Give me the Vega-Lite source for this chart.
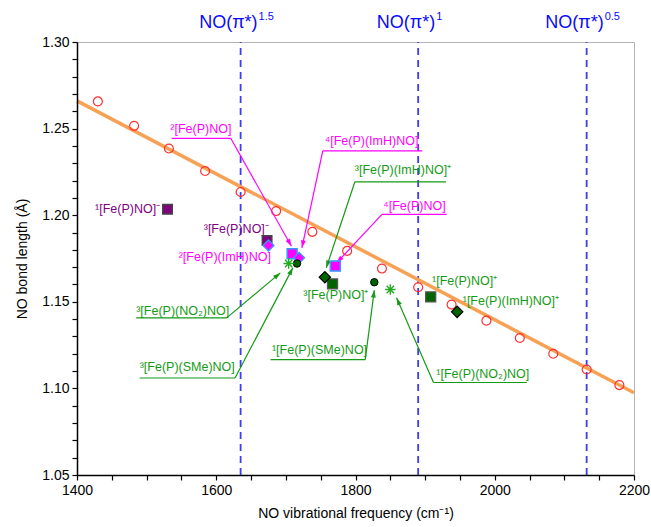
{
  "$schema": "https://vega.github.io/schema/vega-lite/v6.json",
  "width": 557,
  "height": 433,
  "autosize": {"type": "none"},
  "padding": {"left": 77, "top": 42, "right": 17, "bottom": 52},
  "background": "white",
  "config": {
    "view": {"stroke": "#b4b4b4", "strokeWidth": 1},
    "axis": {
      "labelFont": "Liberation Sans",
      "titleFont": "Liberation Sans",
      "labelFontSize": 14,
      "titleFontSize": 14,
      "labelColor": "black",
      "titleColor": "black",
      "titleFontWeight": "normal",
      "domainColor": "black",
      "domainWidth": 1.5,
      "labelFlush": false,
      "labelOverlap": false,
      "grid": false
    }
  },
  "datasets": {
    "states": [
      {"freq": 1635, "len": 1.05, "len2": 1.3},
      {"freq": 1890, "len": 1.05, "len2": 1.3},
      {"freq": 2132, "len": 1.05, "len2": 1.3}
    ],
    "stateLabels": [
      {"freq": 1635, "len": 1.3112, "base": "NO(π*)", "sup": "1.5"},
      {"freq": 1890, "len": 1.3112, "base": "NO(π*)", "sup": "1"},
      {"freq": 2132, "len": 1.3112, "base": "NO(π*)", "sup": "0.5"}
    ],
    "fit": [
      {"freq": 1400, "len": 1.266},
      {"freq": 2200, "len": 1.0975}
    ],
    "series": [
      {"freq": 1430, "len": 1.2657},
      {"freq": 1482, "len": 1.2516},
      {"freq": 1532, "len": 1.2385},
      {"freq": 1584, "len": 1.2255},
      {"freq": 1635, "len": 1.2134},
      {"freq": 1686, "len": 1.2024},
      {"freq": 1738, "len": 1.1904},
      {"freq": 1788, "len": 1.1794},
      {"freq": 1838, "len": 1.1692},
      {"freq": 1890, "len": 1.1584},
      {"freq": 1938, "len": 1.1484},
      {"freq": 1988, "len": 1.1391},
      {"freq": 2036, "len": 1.1291},
      {"freq": 2084, "len": 1.12},
      {"freq": 2132, "len": 1.1109},
      {"freq": 2179, "len": 1.1019}
    ],
    "species": [
      {"name": "¹[Fe(P)NO]⁻", "kind": "anion", "freq": 1530, "len": 1.2034},
      {"name": "³[Fe(P)NO]⁻", "kind": "anion", "freq": 1673, "len": 1.1854},
      {"name": "²[Fe(P)NO]", "kind": "neutral_sq", "freq": 1709, "len": 1.1777},
      {"name": "⁴[Fe(P)NO]", "kind": "neutral_sq", "freq": 1771, "len": 1.1706},
      {"name": "²[Fe(P)(ImH)NO]", "kind": "neutral_dia", "freq": 1675, "len": 1.1825},
      {"name": "⁴[Fe(P)(ImH)NO]", "kind": "neutral_dia", "freq": 1719, "len": 1.1754},
      {"name": "³[Fe(P)NO]⁺", "kind": "cation_sq", "freq": 1767, "len": 1.1603},
      {"name": "¹[Fe(P)NO]⁺", "kind": "cation_sq", "freq": 1908, "len": 1.1528},
      {"name": "³[Fe(P)(ImH)NO]⁺", "kind": "cation_dia", "freq": 1756, "len": 1.1642},
      {"name": "¹[Fe(P)(ImH)NO]⁺", "kind": "cation_dia", "freq": 1946, "len": 1.1442},
      {"name": "³[Fe(P)(SMe)NO]", "kind": "thiolate", "freq": 1716, "len": 1.1721},
      {"name": "¹[Fe(P)(SMe)NO]", "kind": "thiolate", "freq": 1827, "len": 1.1613},
      {"name": "³[Fe(P)(NO₂)NO]", "kind": "nitrite", "freq": 1704, "len": 1.1721},
      {"name": "¹[Fe(P)(NO₂)NO]", "kind": "nitrite", "freq": 1850, "len": 1.1571}
    ],
    "labels": [
      {"name": "¹[Fe(P)NO]⁻", "group": "anion", "freq": 1426, "len": 1.2034},
      {"name": "³[Fe(P)NO]⁻", "group": "anion", "freq": 1582, "len": 1.1918},
      {"name": "²[Fe(P)NO]", "group": "neutral", "freq": 1534, "len": 1.2497},
      {"name": "⁴[Fe(P)NO]", "group": "neutral", "freq": 1840, "len": 1.2053},
      {"name": "²[Fe(P)(ImH)NO]", "group": "neutral", "freq": 1546, "len": 1.1758},
      {"name": "⁴[Fe(P)(ImH)NO]", "group": "neutral", "freq": 1756, "len": 1.2429},
      {"name": "³[Fe(P)NO]⁺", "group": "green", "freq": 1725, "len": 1.1542},
      {"name": "¹[Fe(P)NO]⁺", "group": "green", "freq": 1910, "len": 1.1619},
      {"name": "³[Fe(P)(ImH)NO]⁺", "group": "green", "freq": 1799, "len": 1.2259},
      {"name": "¹[Fe(P)(ImH)NO]⁺", "group": "green", "freq": 1954, "len": 1.1503},
      {"name": "³[Fe(P)(SMe)NO]", "group": "green", "freq": 1490, "len": 1.1125},
      {"name": "¹[Fe(P)(SMe)NO]", "group": "green", "freq": 1680, "len": 1.1219},
      {"name": "³[Fe(P)(NO₂)NO]", "group": "green", "freq": 1485, "len": 1.1449},
      {"name": "¹[Fe(P)(NO₂)NO]", "group": "green", "freq": 1916, "len": 1.1085}
    ],
    "underlines": [
      {"name": "²[Fe(P)NO]", "group": "neutral", "freq": 1536, "freq2": 1621, "len": 1.2443},
      {"name": "⁴[Fe(P)NO]", "group": "neutral", "freq": 1838, "freq2": 1931, "len": 1.2005},
      {"name": "⁴[Fe(P)(ImH)NO]", "group": "neutral", "freq": 1753, "freq2": 1896, "len": 1.2371},
      {"name": "³[Fe(P)(ImH)NO]⁺", "group": "green", "freq": 1799, "freq2": 1930, "len": 1.2192},
      {"name": "³[Fe(P)(SMe)NO]", "group": "green", "freq": 1490, "freq2": 1627, "len": 1.106},
      {"name": "¹[Fe(P)(SMe)NO]", "group": "green", "freq": 1678, "freq2": 1814, "len": 1.1166},
      {"name": "³[Fe(P)(NO₂)NO]", "group": "green", "freq": 1485, "freq2": 1615, "len": 1.1407},
      {"name": "¹[Fe(P)(NO₂)NO]", "group": "green", "freq": 1912, "freq2": 2046, "len": 1.1034}
    ],
    "pointers": [
      {"name": "²[Fe(P)NO]", "group": "neutral", "freq": 1621, "len": 1.2443, "freq2": 1708, "len2": 1.1821},
      {"name": "⁴[Fe(P)NO]", "group": "neutral", "freq": 1838, "len": 1.2005, "freq2": 1773, "len2": 1.1725},
      {"name": "⁴[Fe(P)(ImH)NO]", "group": "neutral", "freq": 1753, "len": 1.2371, "freq2": 1723, "len2": 1.1812},
      {"name": "³[Fe(P)(ImH)NO]⁺", "group": "green", "freq": 1799, "len": 1.2192, "freq2": 1758, "len2": 1.1696},
      {"name": "³[Fe(P)(SMe)NO]", "group": "green", "freq": 1627, "len": 1.106, "freq2": 1710, "len2": 1.1696},
      {"name": "¹[Fe(P)(SMe)NO]", "group": "green", "freq": 1814, "len": 1.1166, "freq2": 1827, "len2": 1.1567},
      {"name": "³[Fe(P)(NO₂)NO]", "group": "green", "freq": 1615, "len": 1.1407, "freq2": 1692, "len2": 1.1667},
      {"name": "¹[Fe(P)(NO₂)NO]", "group": "green", "freq": 1912, "len": 1.1034, "freq2": 1859, "len2": 1.1523}
    ]
  },
  "encoding": {
    "x": {
      "field": "freq", "type": "quantitative",
      "scale": {"domain": [1400, 2200], "nice": false, "zero": false},
      "axis": {
        "title": "NO vibrational frequency (cm⁻¹)",
        "values": [1400, 1450, 1500, 1550, 1600, 1650, 1700, 1750, 1800, 1850, 1900, 1950, 2000, 2050, 2100, 2150, 2200],
        "labelExpr": "datum.value % 200 === 0 ? format(datum.value, 'd') : ''",
        "labelOverlap": false,
        "labelFlush": false,
        "ticks": true,
        "tickSize": 5,
        "tickWidth": 1.2,
        "tickColor": "black",
        "tickOpacity": 1,
        "zindex": 1,
        "labelPadding": 3,
        "titlePadding": 9
      }
    },
    "y": {
      "field": "len", "type": "quantitative",
      "scale": {"domain": [1.05, 1.3], "nice": false, "zero": false},
      "axis": {
        "title": "NO bond length (Å)",
        "values": [1.05, 1.06, 1.07, 1.08, 1.09, 1.1, 1.11, 1.12, 1.13, 1.14, 1.15, 1.16, 1.17, 1.18, 1.19, 1.2, 1.21, 1.22, 1.23, 1.24, 1.25, 1.26, 1.27, 1.28, 1.29, 1.3],
        "labelExpr": "round(datum.value * 100) % 5 === 0 ? format(datum.value, '.2f') : ''",
        "labelOverlap": false,
        "labelFlush": false,
        "ticks": true,
        "tickSize": 5,
        "tickWidth": 1.2,
        "tickColor": "black",
        "tickOpacity": 1,
        "zindex": 1,
        "labelPadding": 3,
        "titlePadding": 12
      }
    }
  },
  "layer": [
    {
      "data": {"name": "states"},
      "mark": {"type": "rule", "color": "#3c3cf5", "strokeWidth": 1.8, "strokeDash": [7, 5]},
      "encoding": {"y2": {"field": "len2"}}
    },
    {
      "data": {"name": "stateLabels"},
      "mark": {"type": "text", "align": "right", "baseline": "middle", "dx": 17, "font": "Liberation Sans", "fontSize": 18, "color": "#0a0aff"},
      "encoding": {"text": {"field": "base"}}
    },
    {
      "data": {"name": "stateLabels"},
      "mark": {"type": "text", "align": "left", "baseline": "middle", "dx": 18, "dy": -6, "font": "Liberation Sans", "fontSize": 11, "color": "#0a0aff"},
      "encoding": {"text": {"field": "sup"}}
    },
    {
      "data": {"name": "fit"},
      "mark": {"type": "line", "color": "#f7a154", "strokeWidth": 3.5},
      "encoding": {}
    },
    {
      "data": {"name": "series"},
      "mark": {"type": "point", "shape": "circle", "filled": false, "stroke": "#ff3030", "strokeWidth": 1.2, "size": 80, "opacity": 1},
      "encoding": {}
    },
    {
      "data": {"name": "underlines"},
      "mark": {"type": "rule", "strokeWidth": 1.2},
      "encoding": {
        "x2": {"field": "freq2"},
        "color": {"field": "group", "type": "nominal", "scale": {"domain": ["anion", "neutral", "green"], "range": ["#800080", "#ff00ff", "#159a15"]}, "legend": null}
      }
    },
    {
      "data": {"name": "pointers"},
      "mark": {"type": "rule", "strokeWidth": 1.2},
      "encoding": {
        "x2": {"field": "freq2"},
        "y2": {"field": "len2"},
        "color": {"field": "group", "type": "nominal", "scale": {"domain": ["anion", "neutral", "green"], "range": ["#800080", "#ff00ff", "#159a15"]}, "legend": null}
      }
    },
    {
      "data": {"name": "pointers"},
      "transform": [
        {"calculate": "atan2((datum.freq2 - datum.freq) * 0.6963, (datum.len2 - datum.len) * 1732) * 180 / PI", "as": "ang"},
        {"calculate": "datum.freq2", "as": "freq"},
        {"calculate": "datum.len2", "as": "len"}
      ],
      "mark": {"type": "point", "shape": "M0,0L-0.33,1L0.33,1Z", "filled": true, "size": 220, "opacity": 1},
      "encoding": {
        "angle": {"field": "ang", "type": "quantitative", "scale": null},
        "color": {"field": "group", "type": "nominal", "scale": {"domain": ["anion", "neutral", "green"], "range": ["#800080", "#ff00ff", "#159a15"]}, "legend": null}
      }
    },
    {
      "data": {"name": "labels"},
      "mark": {"type": "text", "align": "left", "baseline": "middle", "font": "Liberation Sans", "fontSize": 12.5},
      "encoding": {
        "text": {"field": "name"},
        "color": {"field": "group", "type": "nominal", "scale": {"domain": ["anion", "neutral", "green"], "range": ["#800080", "#ff00ff", "#159a15"]}, "legend": null}
      }
    },
    {
      "data": {"name": "species"},
      "transform": [{"filter": "datum.kind === 'anion'"}],
      "mark": {"type": "point", "shape": "square", "filled": true, "fill": "#800080", "stroke": "#444444", "strokeWidth": 1.5, "size": 90, "opacity": 1},
      "encoding": {}
    },
    {
      "data": {"name": "species"},
      "transform": [{"filter": "datum.kind === 'neutral_sq'"}],
      "mark": {"type": "point", "shape": "square", "filled": true, "fill": "#ff00ff", "stroke": "#3399ff", "strokeWidth": 1.5, "size": 100, "opacity": 1},
      "encoding": {}
    },
    {
      "data": {"name": "species"},
      "transform": [{"filter": "datum.kind === 'neutral_dia'"}],
      "mark": {"type": "point", "shape": "diamond", "filled": true, "fill": "#ff00ff", "stroke": "#3399ff", "strokeWidth": 1.3, "size": 120, "opacity": 1},
      "encoding": {}
    },
    {
      "data": {"name": "species"},
      "transform": [{"filter": "datum.kind === 'cation_sq'"}],
      "mark": {"type": "point", "shape": "square", "filled": true, "fill": "#006400", "stroke": "#555555", "strokeWidth": 1.3, "size": 100, "opacity": 1},
      "encoding": {}
    },
    {
      "data": {"name": "species"},
      "transform": [{"filter": "datum.kind === 'cation_dia'"}],
      "mark": {"type": "point", "shape": "diamond", "filled": true, "fill": "#006400", "stroke": "#000000", "strokeWidth": 1.2, "size": 130, "opacity": 1},
      "encoding": {}
    },
    {
      "data": {"name": "species"},
      "transform": [{"filter": "datum.kind === 'thiolate'"}],
      "mark": {"type": "point", "shape": "circle", "filled": true, "fill": "#006400", "stroke": "#000000", "strokeWidth": 1, "size": 55, "opacity": 1},
      "encoding": {}
    },
    {
      "data": {"name": "species"},
      "transform": [{"filter": "datum.kind === 'nitrite'"}],
      "mark": {"type": "point", "shape": "M0,-1L0,1M-1,0L1,0M-0.7,-0.7L0.7,0.7M-0.7,0.7L0.7,-0.7", "filled": false, "stroke": "#22aa22", "strokeWidth": 1.4, "size": 110, "opacity": 1},
      "encoding": {}
    }
  ]
}
